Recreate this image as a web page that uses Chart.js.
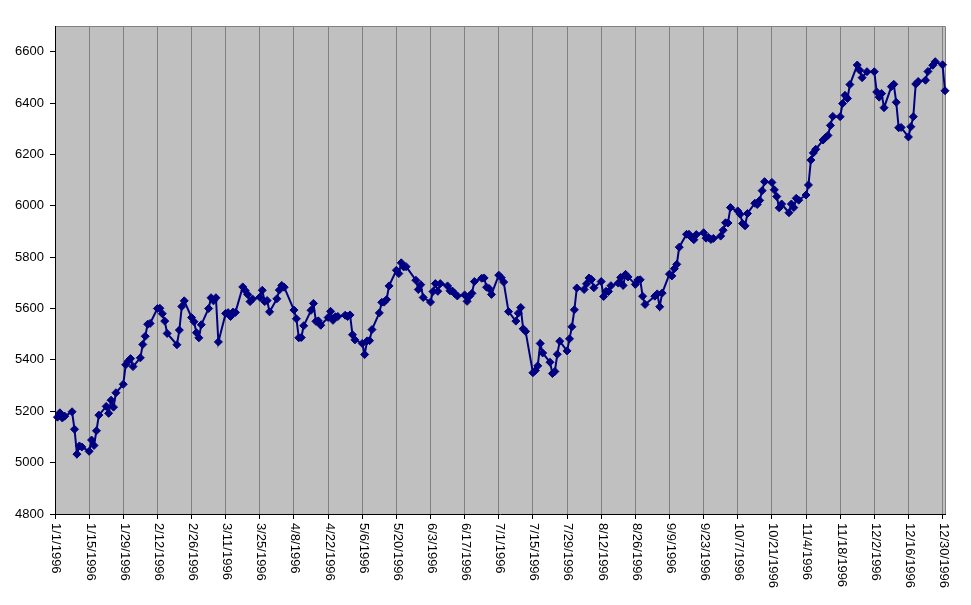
<!DOCTYPE html>
<html>
<head>
<meta charset="utf-8">
<script src="https://cdn.jsdelivr.net/npm/chart.js@4.4.1/dist/chart.umd.min.js"></script>
<style>
  body { margin: 0; background: #fff; }
</style>
</head>
<body>
<canvas id="grafico" width="971" height="605"></canvas>
<script>
// trading days of 1996 (M/D) and closing values
const dates = [
  '1/2','1/3','1/4','1/5','1/8','1/9','1/10','1/11','1/12','1/15','1/16','1/17','1/18','1/19','1/22','1/23','1/24','1/25','1/26','1/29','1/30','1/31',
  '2/1','2/2','2/5','2/6','2/7','2/8','2/9','2/12','2/13','2/14','2/15','2/16','2/20','2/21','2/22','2/23','2/26','2/27','2/28','2/29',
  '3/1','3/4','3/5','3/6','3/7','3/8','3/11','3/12','3/13','3/14','3/15','3/18','3/19','3/20','3/21','3/22','3/25','3/26','3/27','3/28','3/29',
  '4/1','4/2','4/3','4/4','4/8','4/9','4/10','4/11','4/12','4/15','4/16','4/17','4/18','4/19','4/22','4/23','4/24','4/25','4/26','4/29','4/30',
  '5/1','5/2','5/3','5/6','5/7','5/8','5/9','5/10','5/13','5/14','5/15','5/16','5/17','5/20','5/21','5/22','5/23','5/24','5/28','5/29','5/30','5/31',
  '6/3','6/4','6/5','6/6','6/7','6/10','6/11','6/12','6/13','6/14','6/17','6/18','6/19','6/20','6/21','6/24','6/25','6/26','6/27','6/28',
  '7/1','7/2','7/3','7/5','7/8','7/9','7/10','7/11','7/12','7/15','7/16','7/17','7/18','7/19','7/22','7/23','7/24','7/25','7/26','7/29','7/30','7/31',
  '8/1','8/2','8/5','8/6','8/7','8/8','8/9','8/12','8/13','8/14','8/15','8/16','8/19','8/20','8/21','8/22','8/23','8/26','8/27','8/28','8/29','8/30',
  '9/3','9/4','9/5','9/6','9/9','9/10','9/11','9/12','9/13','9/16','9/17','9/18','9/19','9/20','9/23','9/24','9/25','9/26','9/27','9/30',
  '10/1','10/2','10/3','10/4','10/7','10/8','10/9','10/10','10/11','10/14','10/15','10/16','10/17','10/18','10/21','10/22','10/23','10/24','10/25','10/28','10/29','10/30','10/31',
  '11/1','11/4','11/5','11/6','11/7','11/8','11/11','11/12','11/13','11/14','11/15','11/18','11/19','11/20','11/21','11/22','11/25','11/26','11/27','11/29',
  '12/2','12/3','12/4','12/5','12/6','12/9','12/10','12/11','12/12','12/13','12/16','12/17','12/18','12/19','12/20','12/23','12/24','12/26','12/27','12/30','12/31'
];

const closes = [
  5177, 5194, 5174, 5181, 5198, 5130, 5033, 5065, 5061, 5044, 5088, 5067, 5124, 5185, 5219, 5192, 5243, 5216, 5272, 5305, 5381, 5395,
  5405, 5374, 5408, 5460, 5492, 5539, 5542, 5600, 5601, 5580, 5551, 5503, 5459, 5516, 5608, 5630, 5565, 5549, 5506, 5486,
  5537, 5600, 5642, 5630, 5642, 5470, 5581, 5584, 5569, 5586, 5585, 5684, 5670, 5655, 5627, 5637, 5644, 5671, 5627, 5631, 5587,
  5638, 5672, 5690, 5683, 5594, 5560, 5486, 5487, 5533, 5593, 5620, 5550, 5552, 5535, 5565, 5589, 5554, 5568, 5569, 5574, 5569,
  5575, 5498, 5478, 5464, 5421, 5474, 5475, 5518, 5583, 5624, 5625, 5635, 5688, 5749, 5736, 5778, 5762, 5763, 5710, 5674, 5693, 5643,
  5625, 5666, 5697, 5667, 5697, 5688, 5669, 5668, 5658, 5649, 5653, 5628, 5648, 5659, 5705, 5718, 5719, 5683, 5678, 5655,
  5730, 5720, 5703, 5588, 5551, 5582, 5604, 5521, 5511, 5350, 5359, 5377, 5464, 5427, 5391, 5347, 5355, 5422, 5473, 5435, 5482, 5529,
  5595, 5680, 5674, 5696, 5719, 5713, 5681, 5705, 5647, 5667, 5666, 5689, 5699, 5721, 5690, 5733, 5723, 5694, 5711, 5712, 5648, 5616,
  5648, 5657, 5607, 5660, 5734, 5727, 5755, 5772, 5839, 5889, 5889, 5877, 5868, 5888, 5895, 5874, 5877, 5869, 5873, 5882,
  5905, 5934, 5933, 5993, 5980, 5967, 5931, 5922, 5970, 6010, 6005, 6021, 6059, 6094, 6091, 6062, 6036, 5992, 6007, 5973, 6007, 5993, 6029,
  6022, 6042, 6081, 6178, 6206, 6220, 6256, 6266, 6274, 6313, 6348, 6347, 6398, 6430, 6418, 6472, 6548, 6528, 6499, 6522,
  6522, 6443, 6423, 6437, 6382, 6464, 6473, 6403, 6304, 6305, 6268, 6308, 6347, 6474, 6484, 6489, 6523, 6547, 6561, 6549, 6448
];

// axis settings
const yMin = 4800;
const yMax = 6700;
const yStep = 200;
const tickEveryDays = 14;
const lastTickDay = 364; // 12/30/1996
const lastDay = 365;     // 12/31/1996 counted from 1/1/1996

function diaDelAno(md) {
    var p = md.split('/');
    return (Date.UTC(1996, +p[0] - 1, +p[1]) - Date.UTC(1996, 0, 1)) / 86400000;
}

function etiquetaFecha(dia) {
    var f = new Date(Date.UTC(1996, 0, 1) + dia * 86400000);
    return (f.getUTCMonth() + 1) + '/' + f.getUTCDate() + '/' + f.getUTCFullYear();
}

var puntos = dates.map(function(d, i) {
    return { x: diaDelAno(d), y: closes[i] };
});

var fondoArea = {
    id: 'fondoArea',
    beforeDraw: function(chart) {
        var a = chart.chartArea;
        var ctx = chart.ctx;
        ctx.save();
        ctx.fillStyle = '#c0c0c0';
        ctx.fillRect(a.left, a.top, a.right - a.left, a.bottom - a.top);
        ctx.strokeStyle = '#808080';
        ctx.lineWidth = 1;
        ctx.beginPath();
        ctx.moveTo(a.left, a.top + 0.5);
        ctx.lineTo(a.right + 0.5, a.top + 0.5);
        ctx.lineTo(a.right + 0.5, a.bottom);
        ctx.stroke();
        ctx.restore();
    }
};

// x labels read top to bottom, like the original
var etiquetasVerticales = {
    id: 'etiquetasVerticales',
    afterDraw: function(chart) {
        var escala = chart.scales.x;
        var ctx = chart.ctx;
        ctx.save();
        ctx.font = '13px "Liberation Sans", Arial, sans-serif';
        ctx.fillStyle = '#000';
        ctx.textAlign = 'left';
        ctx.textBaseline = 'middle';
        escala.ticks.forEach(function(t) {
            var px = escala.getPixelForValue(t.value);
            ctx.save();
            ctx.translate(px + 1, chart.chartArea.bottom + 9);
            ctx.rotate(Math.PI / 2);
            ctx.fillText(etiquetaFecha(t.value), 0, 0);
            ctx.restore();
        });
        ctx.restore();
    }
};

new Chart(document.getElementById('grafico'), {
    type: 'line',
    data: {
        datasets: [{
            data: puntos,
            borderColor: '#000080',
            backgroundColor: '#000080',
            borderWidth: 2,
            pointStyle: 'rectRot',
            pointRadius: 4,
            pointBorderWidth: 1,
            pointBackgroundColor: '#000080',
            pointBorderColor: '#000080',
            tension: 0,
            clip: false
        }]
    },
    options: {
        responsive: false,
        animation: false,
        layout: { padding: { top: 26, right: 26, bottom: 86, left: 0 } },
        plugins: {
            legend: { display: false },
            tooltip: { enabled: false }
        },
        scales: {
            x: {
                type: 'linear',
                min: 0,
                max: lastDay,
                afterBuildTicks: function(s) {
                    var lista = [];
                    for (var d = 0; d <= lastTickDay; d += tickEveryDays) lista.push({ value: d });
                    s.ticks = lista;
                },
                ticks: { display: false },
                grid: { color: '#808080', lineWidth: 1, tickLength: 5, tickColor: '#000' },
                border: { color: '#000', width: 1 }
            },
            y: {
                min: yMin,
                max: yMax,
                afterBuildTicks: function(s) {
                    s.ticks = s.ticks.filter(function(t) { return t.value < yMax; });
                },
                afterFit: function(s) { s.width = 55; },
                ticks: {
                    stepSize: yStep,
                    padding: 6,
                    color: '#000',
                    font: { family: '"Liberation Sans", Arial, sans-serif', size: 13 },
                    callback: function(v) { return String(v); }
                },
                grid: { drawOnChartArea: false, tickLength: 5, tickColor: '#000' },
                border: { color: '#000', width: 1 }
            }
        }
    },
    plugins: [fondoArea, etiquetasVerticales]
});
</script>
</body>
</html>
